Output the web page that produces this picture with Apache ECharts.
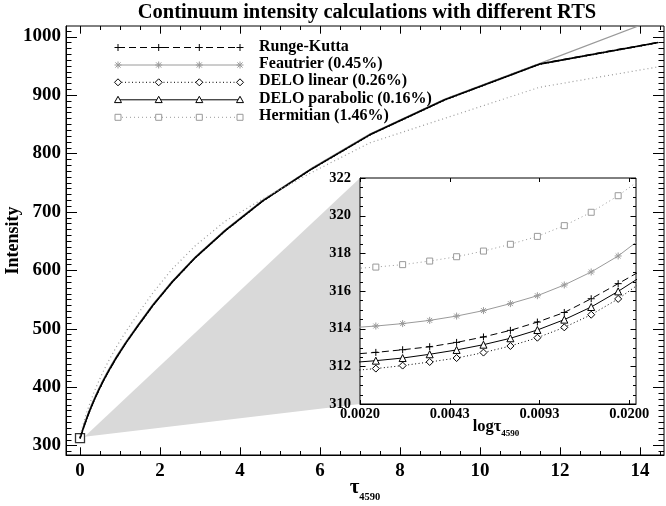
<!DOCTYPE html>
<html><head><meta charset="utf-8">
<script src="https://cdn.jsdelivr.net/npm/echarts@6.0.0/dist/echarts.min.js"></script>
<style>html,body{margin:0;padding:0;background:#fff;overflow:hidden}#chart{width:666px;height:506px}</style>
</head><body><div id="chart"></div>
<script>
// ---------------- data ----------------
const tau = [0.00182,0.00229,0.00288,0.00363,0.00457,0.00575,0.00724,0.00912,0.01148,0.01445,0.01820,
  0.0229,0.0288,0.0363,0.0457,0.0575,0.0724,0.0912,0.1148,0.1445,0.1820,
  0.2291,0.2884,0.3631,0.4571,0.5754,0.7244,0.9120,1.1482,1.4454,1.8197,
  2.2909,2.8840,3.6308,4.5709,5.7544,7.2444,9.1201,11.4815,14.4544];
const rungeKutta = [312.63,312.74,312.88,313.04,313.27,313.56,313.91,314.35,314.86,315.59,316.39,
  317.2,318.5,320.1,322.1,324.6,327.7,331.5,336.2,341.9,348.9,
  357.4,367.4,379.4,393.4,409.9,428.9,450.9,475.9,504.9,539.9,
  579,622,668,719,772,832,892,953,990];
const feautrier = [314.04,314.14,314.27,314.44,314.67,314.96,315.33,315.75,316.32,317.01,317.86,
  318.95,320.3,322.0,324.1,326.7,329.9,333.8,338.6,344.4,351.5,
  360.0,370.0,382.0,396.0,412.3,431.2,453.0,477.8,506.6,541.4,
  580.4,623.3,669.2,720.1,773.0,833.0,893.0,953.5,1031];
const deloLinear = [311.76,311.88,312.04,312.23,312.44,312.73,313.08,313.52,314.07,314.74,315.58,
  316.6,317.9,319.5,321.5,324.0,327.1,330.9,335.6,341.3,348.3,
  356.8,366.8,378.8,392.8,409.3,428.3,450.3,475.3,504.3,539.3,
  578.4,621.4,667.4,718.4,771.4,831.4,891.4,952.4,989.4];
const deloParabolic = [312.19,312.30,312.44,312.64,312.87,313.15,313.49,313.93,314.48,315.15,315.98,
  316.9,318.2,319.8,321.8,324.3,327.4,331.2,335.9,341.6,348.6,
  357.1,367.1,379.1,393.1,409.6,428.6,450.6,475.6,504.6,539.6,
  578.7,621.7,667.7,718.7,771.7,831.7,891.7,952.7,989.7];
const hermitian = [317.17,317.27,317.40,317.59,317.82,318.12,318.48,318.90,319.47,320.18,321.06,
  322.1,323.6,325.6,328.1,331.2,334.9,339.4,344.8,351.3,359.2,
  368.7,380.0,393.2,408.2,426.0,446.0,469.0,495.0,525.0,561.0,
  601.0,642.0,684.0,722.0,766.0,818.0,860.0,913.0,948.0];
const seriesNames = ['Runge-Kutta','Feautrier (0.45%)','DELO linear (0.26%)','DELO parabolic (0.16%)','Hermitian (1.46%)'];
const xTickLabels = [0,2,4,6,8,10,12,14];
const yTickLabels = [300,400,500,600,700,800,900,1000];
const insetYTickLabels = [310,312,314,316,318,320,322];
const insetXTickLabels = ['0.0020','0.0043','0.0093','0.0200'];
const zoomMark = [0, 312.5];

// ---------------- layout / style ----------------
const FONT = 'Liberation Serif';
const GRAY = '#9a9a9a';
const MAIN_X = [-0.35, 14.6], MAIN_Y = [283.7, 1018];
const INSET_TAU = [0.002, 0.0212], INSET_Y = [310, 322];
const toW = t => 3 * Math.log10(t / INSET_TAU[0]);   // log axis, 3 ticks per decade

function range(a, b, s, skip) { const r = []; for (let v = a; v <= b + 1e-9; v += s) { const q = Math.round(v * 1000) / 1000; if (!skip(q)) r.push(q); } return r; }
const isEven = v => Math.abs(v / 2 - Math.round(v / 2)) < 1e-6;
const xMinor = range(0.5, 14.5, 0.5, isEven);
const yMinor = range(290, 1010, 10, v => v % 100 === 0);
const iyMinor = range(310.5, 321.5, 0.5, isEven);
const insetXW = insetXTickLabels.map((_, i) => i);

const lab = (size, extra) => Object.assign({show: true, fontFamily: FONT, fontWeight: 'bold', fontSize: size, color: '#000', formatter: v => String(v)}, extra || {});
function ax(o) {
  return Object.assign({
    type: 'value', axisLine: {show: true, onZero: false, lineStyle: {color: '#000', width: 1}}, splitLine: {show: false},
    axisTick: {show: false}
  }, o);
}

const xAxis = [
  ax({gridIndex: 0, position: 'bottom', min: MAIN_X[0], max: MAIN_X[1], axisLabel: lab(19, {customValues: xTickLabels, margin: 7})}),
  ax({gridIndex: 1, position: 'bottom', min: 0, max: toW(INSET_TAU[1]),
    axisLabel: lab(14.5, {customValues: insetXW, margin: 3, formatter: v => insetXTickLabels[Math.round(v)]})})
];
const yAxis = [
  ax({gridIndex: 0, position: 'left', min: MAIN_Y[0], max: MAIN_Y[1], axisLabel: lab(19, {customValues: yTickLabels, margin: 5})}),
  ax({gridIndex: 1, position: 'left', min: INSET_Y[0], max: INSET_Y[1], axisLabel: lab(14.5, {customValues: insetYTickLabels, margin: 9})})
];

const PLUS = 'path://M0,5H10M5,0V10';
const STAR = 'path://M0,5H10M5,0V10M1.5,1.5L8.5,8.5M8.5,1.5L1.5,8.5';
const defs = [
  {name: seriesNames[0], data: rungeKutta, color: '#000', dash: [7, 4], symbol: PLUS, size: 7, fill: 'none', mk: 'plus', w: 1.5},
  {name: seriesNames[1], data: feautrier, color: GRAY, dash: 'solid', symbol: STAR, size: 7, fill: 'none', mk: 'star', w: 1.2},
  {name: seriesNames[2], data: deloLinear, color: '#000', dash: [1, 2.5], symbol: 'diamond', size: 7, fill: '#fff', mk: 'diamond', w: 1.5},
  {name: seriesNames[3], data: deloParabolic, color: '#000', dash: 'solid', symbol: 'triangle', size: 7, fill: '#fff', mk: 'triangle', w: 1.6},
  {name: seriesNames[4], data: hermitian, color: GRAY, dash: [1, 3], symbol: 'rect', size: 6, fill: '#fff', mk: 'square', w: 1.2}
];

const series = [];
defs.forEach(d => {
  series.push({
    type: 'line', name: d.name, xAxisIndex: 0, yAxisIndex: 0, symbol: 'none', showSymbol: false, z: 3,
    data: tau.map((t, i) => [t, d.data[i]]),
    lineStyle: {color: d.color, width: d.w, type: d.dash}, silent: true
  });
});
defs.forEach(d => {
  series.push({
    type: 'line', name: d.name + ' (inset)', xAxisIndex: 1, yAxisIndex: 1, clip: true, z: 4,
    symbol: d.symbol, symbolSize: d.size, showSymbol: true, showAllSymbol: true,
    data: tau.slice(0, 13).map((t, i) => [toW(t), d.data[i]]),
    itemStyle: {color: d.fill, borderColor: d.color, borderWidth: 1},
    lineStyle: {color: d.color, width: 1, type: d.dash}, silent: true
  });
});
series.push({
  type: 'scatter', xAxisIndex: 0, yAxisIndex: 0, data: [zoomMark], symbol: 'rect', symbolSize: 9, z: 5,
  itemStyle: {color: 'none', borderColor: '#000', borderWidth: 1.3}, silent: true
});

const chart = echarts.init(document.getElementById('chart'), null, {renderer: 'canvas'});
chart.setOption({
  animation: false,
  backgroundColor: '#fff',
  grid: [
    {left: 66, right: 2, top: 26, bottom: 51, show: true, borderColor: '#000', borderWidth: 1, backgroundColor: 'transparent',
      containLabel: false, outerBoundsMode: 'none'},
    {left: 360, right: 30, top: 178, bottom: 102, show: true, borderColor: '#000', borderWidth: 1, backgroundColor: '#fff', z: 1,
      containLabel: false, outerBoundsMode: 'none'}
  ],
  xAxis, yAxis, series
});

// ---------------- graphics: ticks, titles, legend, zoom cone ----------------
const graphics = [];
const tickStyle = {stroke: '#000', lineWidth: 1};
function corners(gi) {
  const f = {xAxisIndex: gi, yAxisIndex: gi};
  const xr = gi === 0 ? MAIN_X : [0, toW(INSET_TAU[1])];
  const yr = gi === 0 ? MAIN_Y : INSET_Y;
  return {f, xr, yr, bl: chart.convertToPixel(f, [xr[0], yr[0]]), tr: chart.convertToPixel(f, [xr[1], yr[1]])};
}
function addTicks(gi, vals, dir, len, zz) {
  const {f, xr, yr, bl, tr} = corners(gi);
  vals.forEach(v => {
    if (dir === 'x') {
      const px = Math.round(chart.convertToPixel(f, [v, yr[0]])[0]) + 0.5;
      graphics.push({type: 'line', z: zz, shape: {x1: px, y1: bl[1], x2: px, y2: bl[1] - len}, style: tickStyle});
      graphics.push({type: 'line', z: zz, shape: {x1: px, y1: tr[1], x2: px, y2: tr[1] + len}, style: tickStyle});
    } else {
      const py = Math.round(chart.convertToPixel(f, [xr[0], v])[1]) + 0.5;
      graphics.push({type: 'line', z: zz, shape: {x1: bl[0], y1: py, x2: bl[0] + len, y2: py}, style: tickStyle});
      graphics.push({type: 'line', z: zz, shape: {x1: tr[0], y1: py, x2: tr[0] - len, y2: py}, style: tickStyle});
    }
  });
}
addTicks(0, xTickLabels, 'x', 7.7, 6);
addTicks(0, xMinor, 'x', 4, 6);
addTicks(0, yTickLabels, 'y', 11, 6);
addTicks(0, yMinor, 'y', 5.5, 6);
addTicks(1, insetXW, 'x', 4, 20);
addTicks(1, insetYTickLabels, 'y', 5.5, 20);
addTicks(1, iyMinor, 'y', 3, 20);

// axis titles
const sub = (size, subSize, drop) => ({
  t: {fontFamily: FONT, fontWeight: 'bold', fontSize: size, fill: '#000', lineHeight: size + drop, verticalAlign: 'top'},
  s: {fontFamily: FONT, fontWeight: 'bold', fontSize: subSize, fill: '#000', lineHeight: subSize, verticalAlign: 'bottom'}
});
const m = corners(0), n = corners(1);
graphics.push({type: 'text', z: 10, x: (m.bl[0] + m.tr[0]) / 2, y: m.bl[1] + 35,
  style: {text: '{t|τ}{s|4590}', rich: sub(21, 10.5, 4), textAlign: 'center', textVerticalAlign: 'middle'}});
graphics.push({type: 'text', z: 21, x: (n.bl[0] + n.tr[0]) / 2 - 2, y: n.bl[1] + 24,
  style: {text: '{t|logτ}{s|4590}', rich: sub(16.5, 9, 4), textAlign: 'center', textVerticalAlign: 'middle'}});
graphics.push({type: 'text', z: 10, x: 13, y: (m.bl[1] + m.tr[1]) / 2, rotation: Math.PI / 2,
  style: {text: 'Intensity', font: `bold 18px "${FONT}"`, fill: '#000', textAlign: 'center', textVerticalAlign: 'middle'}});

function markerEls(kind, cx, cy, color) {
  const s = 3.5, k = 2.6, st = {stroke: color, lineWidth: 1};
  const ln = (x1, y1, x2, y2) => ({type: 'line', z: 11, shape: {x1, y1, x2, y2}, style: st});
  switch (kind) {
    case 'plus': return [ln(cx - s, cy, cx + s, cy), ln(cx, cy - s, cx, cy + s)];
    case 'star': return [ln(cx - s, cy, cx + s, cy), ln(cx, cy - s, cx, cy + s), ln(cx - k, cy - k, cx + k, cy + k), ln(cx + k, cy - k, cx - k, cy + k)];
    case 'diamond': return [{type: 'polygon', z: 11, shape: {points: [[cx, cy - s], [cx + s, cy], [cx, cy + s], [cx - s, cy]]}, style: Object.assign({fill: '#fff'}, st)}];
    case 'triangle': return [{type: 'polygon', z: 11, shape: {points: [[cx, cy - s], [cx + s, cy + s * 0.8], [cx - s, cy + s * 0.8]]}, style: Object.assign({fill: '#fff'}, st)}];
    default: return [{type: 'rect', z: 11, shape: {x: cx - 3, y: cy - 3, width: 6, height: 6}, style: Object.assign({fill: '#fff'}, st)}];
  }
}
graphics.push({type: 'text', x: 367, y: 12.5, z: 10, style: {text: 'Continuum intensity calculations with different RTS',
  font: `bold 20.5px "${FONT}"`, fill: '#000', textAlign: 'center', textVerticalAlign: 'middle'}});
const legX = [118, 158.7, 199.3, 240];
const legY = [47.5, 65, 82.3, 99.8, 117.3];
defs.forEach((d, i) => {
  const y = legY[i];
  graphics.push({type: 'line', z: 10, shape: {x1: legX[0], y1: y, x2: legX[3], y2: y},
    style: {stroke: d.color, lineWidth: 1, lineDash: Array.isArray(d.dash) ? d.dash : null}});
  legX.forEach(x => markerEls(d.mk, x, y, d.color).forEach(e => graphics.push(e)));
  graphics.push({type: 'text', x: 259, y: y - 1, z: 10, style: {text: d.name, font: `bold 16px "${FONT}"`, fill: '#000',
    textAlign: 'left', textVerticalAlign: 'middle'}});
});
const apex = chart.convertToPixel({xAxisIndex: 0, yAxisIndex: 0}, zoomMark);
const cTop = chart.convertToPixel({xAxisIndex: 1, yAxisIndex: 1}, [0, INSET_Y[1]]);
const cBot = chart.convertToPixel({xAxisIndex: 1, yAxisIndex: 1}, [0, INSET_Y[0]]);
graphics.push({type: 'polygon', z: -1, shape: {points: [[apex[0] + 4.5, apex[1] - 1.5], cTop, cBot]}, style: {fill: '#d9d9d9'}});
chart.setOption({graphic: graphics});
</script></body></html>
